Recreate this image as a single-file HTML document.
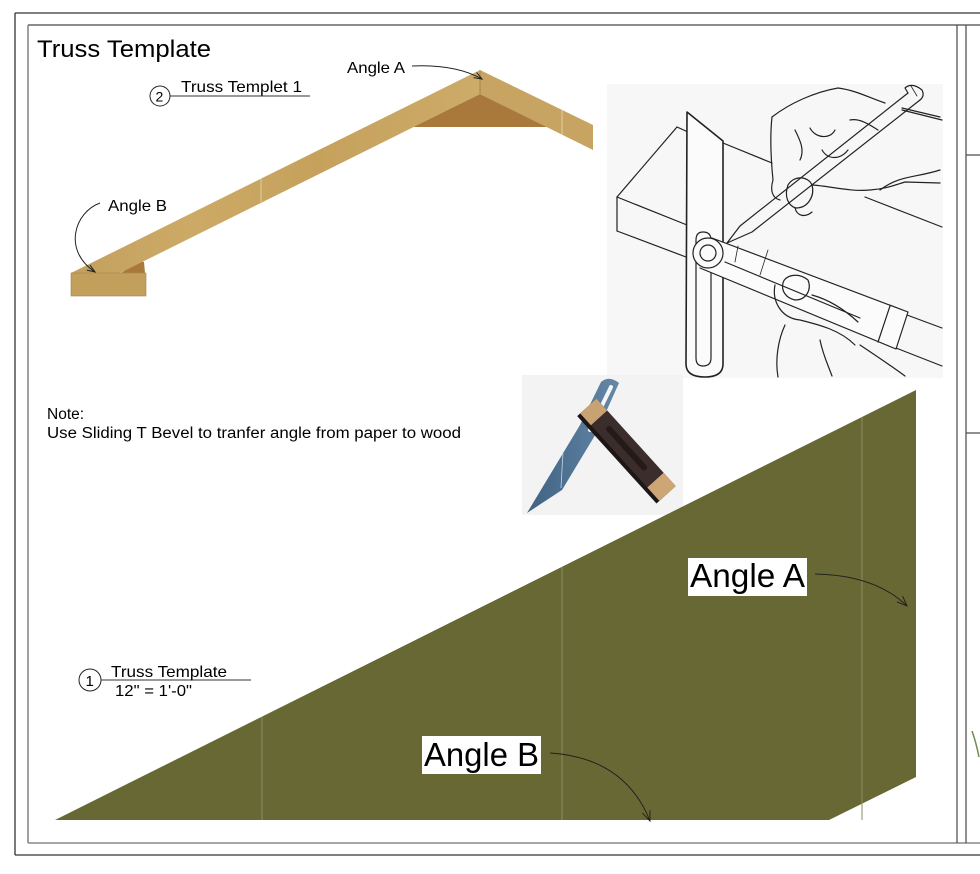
<!DOCTYPE html>
<html><head><meta charset="utf-8"><style>
html,body{margin:0;padding:0;background:#fff;}
svg{display:block;}
text{font-family:"Liberation Sans",Arial,sans-serif;fill:#000;}
</style></head><body>
<svg width="980" height="874" viewBox="0 0 980 874" xmlns="http://www.w3.org/2000/svg">
<defs>
<linearGradient id="wood1" x1="0" y1="0" x2="1" y2="0">
<stop offset="0" stop-color="#c3a05f"/><stop offset="0.3" stop-color="#ccaa66"/><stop offset="0.6" stop-color="#c5a15c"/><stop offset="1" stop-color="#cdab68"/>
</linearGradient>
<linearGradient id="blade" x1="0" y1="0" x2="1" y2="0">
<stop offset="0" stop-color="#3f6283"/><stop offset="1" stop-color="#6588a8"/>
</linearGradient>
</defs>

<!-- frame -->
<line x1="15" y1="13" x2="980" y2="13" stroke="#333" stroke-width="1.3"/>
<line x1="15" y1="13" x2="15" y2="855" stroke="#333" stroke-width="1.3"/>
<line x1="15" y1="855" x2="980" y2="855" stroke="#333" stroke-width="1.3"/>
<line x1="28" y1="25" x2="980" y2="25" stroke="#666" stroke-width="1.4"/>
<line x1="28" y1="25" x2="28" y2="843" stroke="#888" stroke-width="1.6"/>
<line x1="28" y1="843" x2="980" y2="843" stroke="#888" stroke-width="1.6"/>
<line x1="957" y1="25" x2="957" y2="843" stroke="#555" stroke-width="1.3"/>
<line x1="966" y1="25" x2="966" y2="843" stroke="#555" stroke-width="1.3"/>
<line x1="966" y1="155" x2="980" y2="155" stroke="#555" stroke-width="1.3"/>
<line x1="966" y1="433" x2="980" y2="433" stroke="#555" stroke-width="1.3"/>
<path d="M972,731 Q976,742 979,757" stroke="#6f8c52" stroke-width="1.5" fill="none"/>

<!-- title -->
<text x="37" y="57" font-size="24" textLength="174" lengthAdjust="spacingAndGlyphs">Truss Template</text>

<!-- truss -->
<polygon points="480,94 413,127 547,127" fill="#a9793c"/>
<polygon points="121,273 139,261 144,262 145,273" fill="#a9793c"/>
<polygon points="71,273 480,70 480,94 120,273" fill="url(#wood1)"/>
<polygon points="480,70 593,125 593,150 480,94" fill="#c7a462"/>
<rect x="71" y="273" width="75" height="23" fill="#c39f5c" stroke="#a8864a" stroke-width="0.6"/>
<line x1="480" y1="70" x2="480" y2="94" stroke="#a88545" stroke-width="1"/>
<line x1="261" y1="179" x2="261" y2="202" stroke="#e2cf9e" stroke-width="1"/>
<line x1="562" y1="110" x2="562" y2="135" stroke="#e2cf9e" stroke-width="1"/>

<!-- top labels -->
<text x="347" y="73" font-size="16" textLength="58" lengthAdjust="spacingAndGlyphs">Angle A</text>
<path d="M412,66 Q455,64 482,79" stroke="#222" stroke-width="1" fill="none"/>
<path d="M473.6,77.6 L482,79 L476.6,72.4" stroke="#222" stroke-width="1" fill="none"/>

<circle cx="160" cy="96" r="10" fill="none" stroke="#222" stroke-width="1"/>
<text x="155.5" y="101.5" font-size="14">2</text>
<line x1="170" y1="96" x2="310" y2="96" stroke="#333" stroke-width="1"/>
<text x="181" y="92" font-size="16" textLength="121" lengthAdjust="spacingAndGlyphs">Truss Templet 1</text>

<text x="108" y="211" font-size="16" textLength="59" lengthAdjust="spacingAndGlyphs">Angle B</text>
<path d="M100,203 C75,212 62,250 95,272" stroke="#222" stroke-width="1" fill="none"/>
<path d="M86.8,270.1 L95,272 L90,265.1" stroke="#222" stroke-width="1" fill="none"/>

<!-- hand illustration -->
<rect x="607" y="84" width="336" height="294" fill="#f7f7f7"/>
<g stroke="#222" stroke-width="1.2" fill="none" stroke-linecap="round" stroke-linejoin="round">
<!-- board -->
<line x1="617" y1="197" x2="617" y2="231"/>
<line x1="617" y1="197" x2="677" y2="127"/>
<line x1="677" y1="127" x2="688" y2="132"/>
<line x1="723" y1="143" x2="772" y2="163"/>
<line x1="617" y1="197" x2="687" y2="225"/>
<line x1="617" y1="231" x2="686" y2="257"/>
<line x1="865" y1="197" x2="942" y2="227"/>
<line x1="902" y1="110" x2="942" y2="120"/>
<line x1="907" y1="315" x2="942" y2="328"/>
<line x1="896" y1="348" x2="942" y2="366"/>
<!-- blade -->
<path d="M687,112 L723,141 L723,364 Q723,377 705,377 Q686,377 686,364 Z" fill="#fbfbfb" stroke-width="1.6"/>
<path d="M703,232 Q711,232 711,240 L711,358 Q711,366 703,366 Q696,366 696,358 L696,240 Q696,232 703,232 Z"/>
<!-- handle -->
<path d="M712,238 L908,312 L896,349 L700,268" fill="#fbfbfb"/>
<path d="M878,342 L890,306"/>
<path d="M725,262 L860,318"/>
<path d="M738,246 L735,262" stroke-width="0.8"/>
<path d="M768,250 L760,275" stroke-width="0.8"/>
<circle cx="708" cy="253" r="15" fill="#fbfbfb"/>
<circle cx="708" cy="253" r="8"/>
<!-- pencil -->
<path d="M908,93 L740,226 L727,243 L752,232 L920,100"/>
<path d="M905,88 Q912,82 922,90 Q925,96 920,100 M908,93 L905,88"/>
<line x1="911" y1="86" x2="917" y2="96" stroke-width="0.8"/>
<!-- upper hand -->
<path d="M772,117 C790,103 815,92 838,88 C855,90 870,98 885,103 M902,108 L940,117"/>
<path d="M772,117 C770,135 771,160 773,180 C770,190 772,198 780,200"/>
<path d="M788,185 C794,175 808,176 812,185 C815,196 808,208 796,208 C788,206 784,196 788,185 Z"/>
<path d="M795,208 C797,216 805,218 812,212"/>
<path d="M812,185 C830,186 850,192 870,190 C885,189 895,185 905,182 L940,183"/>
<path d="M795,130 C800,140 805,150 800,160 M810,128 C815,138 830,140 835,130 M822,150 C828,160 840,160 848,150"/>
<path d="M850,120 C860,118 870,125 878,130"/>
<path d="M880,190 C900,175 915,178 940,170"/>
<!-- lower hand -->
<path d="M783,283 C785,275 798,272 808,280 C812,290 806,300 795,300 C786,298 781,291 783,283 Z"/>
<path d="M775,285 C772,300 780,318 800,320 C820,325 840,330 855,345"/>
<path d="M812,295 C830,300 845,310 858,322"/>
<path d="M785,325 C778,340 775,360 778,377"/>
<path d="M860,345 C875,355 890,365 905,376"/>
<path d="M820,340 C823,355 828,365 832,376"/>
</g>

<!-- note -->
<text x="47" y="419" font-size="15.5">Note:</text>
<text x="47" y="438" font-size="15.5" textLength="414" lengthAdjust="spacingAndGlyphs">Use Sliding T Bevel to tranfer angle from paper to wood</text>

<!-- bevel photo -->
<rect x="522" y="375" width="161" height="140" fill="#f3f3f3"/>
<path d="M601,382 Q609,375 619,383 L597,432 L562,490 L527,513 L580,425 Z" fill="url(#blade)"/>
<line x1="611" y1="387" x2="590" y2="430" stroke="#f5f5f5" stroke-width="4" stroke-linecap="round"/>
<line x1="563" y1="452" x2="561" y2="488" stroke="#c8d6e2" stroke-width="0.8"/>
<g transform="translate(591,409) rotate(47.8)">
<rect x="-4" y="9" width="118" height="6" fill="#1e1616"/>
<rect x="-4" y="-11" width="118" height="22" fill="#3b2d2c"/>
<rect x="-4" y="-11" width="16" height="22" fill="#c8a272"/>
<rect x="96" y="-11" width="18" height="22" fill="#cda676"/>
<rect x="24" y="-3" width="58" height="6" rx="3" fill="#251a1a"/>
</g>

<!-- big olive template -->
<polygon points="55,820 916,390 916,777 829,820" fill="#686834"/>
<line x1="262" y1="717" x2="262" y2="820" stroke="#8c8b62" stroke-width="1"/>
<line x1="562" y1="567" x2="562" y2="820" stroke="#8c8b62" stroke-width="1"/>
<line x1="862" y1="417" x2="862" y2="820" stroke="#8c8b62" stroke-width="1"/>

<rect x="688" y="558" width="119" height="38" fill="#fff"/>
<text x="690" y="587" font-size="33" textLength="115" lengthAdjust="spacingAndGlyphs">Angle A</text>
<path d="M815,574 Q875,575 907,606" stroke="#222" stroke-width="1" fill="none"/>
<path d="M897,601.9 L907,606 L902.6,596.1" stroke="#222" stroke-width="1" fill="none"/>

<rect x="422" y="736" width="119" height="38" fill="#fff"/>
<text x="424" y="766" font-size="33" textLength="115" lengthAdjust="spacingAndGlyphs">Angle B</text>
<path d="M550,753 Q625,758 650,821" stroke="#222" stroke-width="1" fill="none"/>
<path d="M642.5,813.2 L650,821 L649.9,810.2" stroke="#222" stroke-width="1" fill="none"/>

<!-- label 1 -->
<circle cx="90" cy="680" r="11" fill="none" stroke="#222" stroke-width="1"/>
<text x="85.5" y="686" font-size="15">1</text>
<line x1="101" y1="680" x2="251" y2="680" stroke="#333" stroke-width="1"/>
<text x="111" y="677" font-size="16" textLength="116" lengthAdjust="spacingAndGlyphs">Truss Template</text>
<text x="115" y="696" font-size="16" textLength="77" lengthAdjust="spacingAndGlyphs">12" = 1'-0"</text>
</svg>
</body></html>
